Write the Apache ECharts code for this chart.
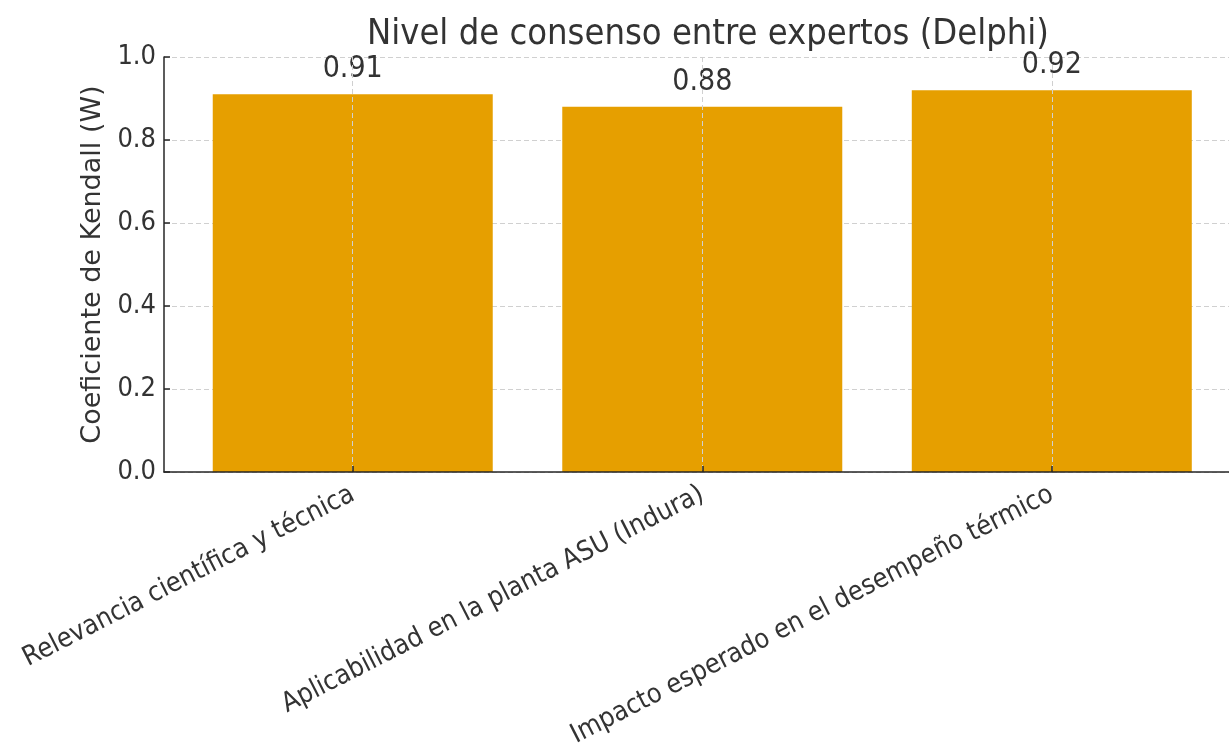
<!DOCTYPE html>
<html>
<head>
<meta charset="utf-8">
<script src="https://cdn.jsdelivr.net/npm/echarts@6/dist/echarts.min.js"></script>
<style>
  html, body { margin: 0; padding: 0; background: #fff; }
  #chart { width: 1229px; height: 756px; }
</style>
</head>
<body>
<div id="chart"></div>
<script>
// Criterios evaluados y su coeficiente W de Kendall
const categories = [
  'Relevancia científica y técnica',
  'Aplicabilidad en la planta ASU (Indura)',
  'Impacto esperado en el desempeño térmico'
];
const kendallW = [0.91, 0.88, 0.92];
const yTicks = [0, 0.2, 0.4, 0.6, 0.8, 1.0];

const FONT_NARROW = '"DejaVu Sans Condensed", "DejaVu Sans"';
const FONT = '"DejaVu Sans"';
const TEXT = '#333333';
const AXIS = '#262626';
const GRID = '#d0d0d0';
const positions = categories.map((_, i) => i);

const chart = echarts.init(document.getElementById('chart'), null, { renderer: 'canvas' });

chart.setOption({
  animation: false,
  backgroundColor: '#ffffff',
  title: {
    text: 'Nivel de consenso entre expertos (Delphi)',
    left: 703, top: 12, textAlign: 'center',
    textStyle: { fontFamily: FONT_NARROW, fontSize: 36, fontWeight: 'normal', color: TEXT }
  },
  grid: { left: 164, right: 0, top: 57, bottom: 284, containLabel: false },
  xAxis: {
    type: 'value',
    // the plot area runs past the right edge of the canvas
    min: -0.54, max: 2.507,
    z: 5,
    axisLine: { show: true, onZero: false, lineStyle: { color: AXIS, width: 1.5 } },
    axisTick: { show: true, inside: true, length: 6, customValues: positions,
                lineStyle: { color: AXIS, width: 1.5 } },
    axisLabel: {
      show: true, customValues: positions, rotate: 27, margin: 21,
      formatter: v => categories[Math.round(v)],
      fontFamily: FONT_NARROW, fontSize: 27, color: TEXT
    },
    splitLine: { show: true, lineStyle: { color: GRID, type: [5, 3], width: 1 } }
  },
  yAxis: {
    type: 'value',
    min: yTicks[0], max: yTicks[yTicks.length - 1], interval: 0.2,
    z: 0,
    name: 'Coeficiente de Kendall (W)',
    nameLocation: 'middle', nameGap: 48, nameRotate: 90,
    nameTextStyle: { fontFamily: FONT, fontSize: 27, color: TEXT },
    axisLine: { show: true, onZero: false, lineStyle: { color: AXIS, width: 1.5 } },
    axisTick: { show: true, inside: true, length: 6, lineStyle: { color: AXIS, width: 1.5 } },
    axisLabel: {
      fontFamily: FONT_NARROW, fontSize: 27, color: TEXT, margin: 8,
      formatter: v => v.toFixed(1)
    },
    splitLine: { show: true, lineStyle: { color: GRID, type: [5, 3], width: 1 } }
  },
  series: [{
    type: 'bar',
    data: kendallW.map((w, i) => [positions[i], w]),
    barWidth: 280,
    itemStyle: { color: '#E69F00' },
    label: {
      show: true, position: 'top', distance: 10,
      formatter: p => p.value[1].toFixed(2),
      fontFamily: FONT_NARROW, fontSize: 30, color: TEXT
    },
    z: 2
  }]
});
</script>
</body>
</html>
